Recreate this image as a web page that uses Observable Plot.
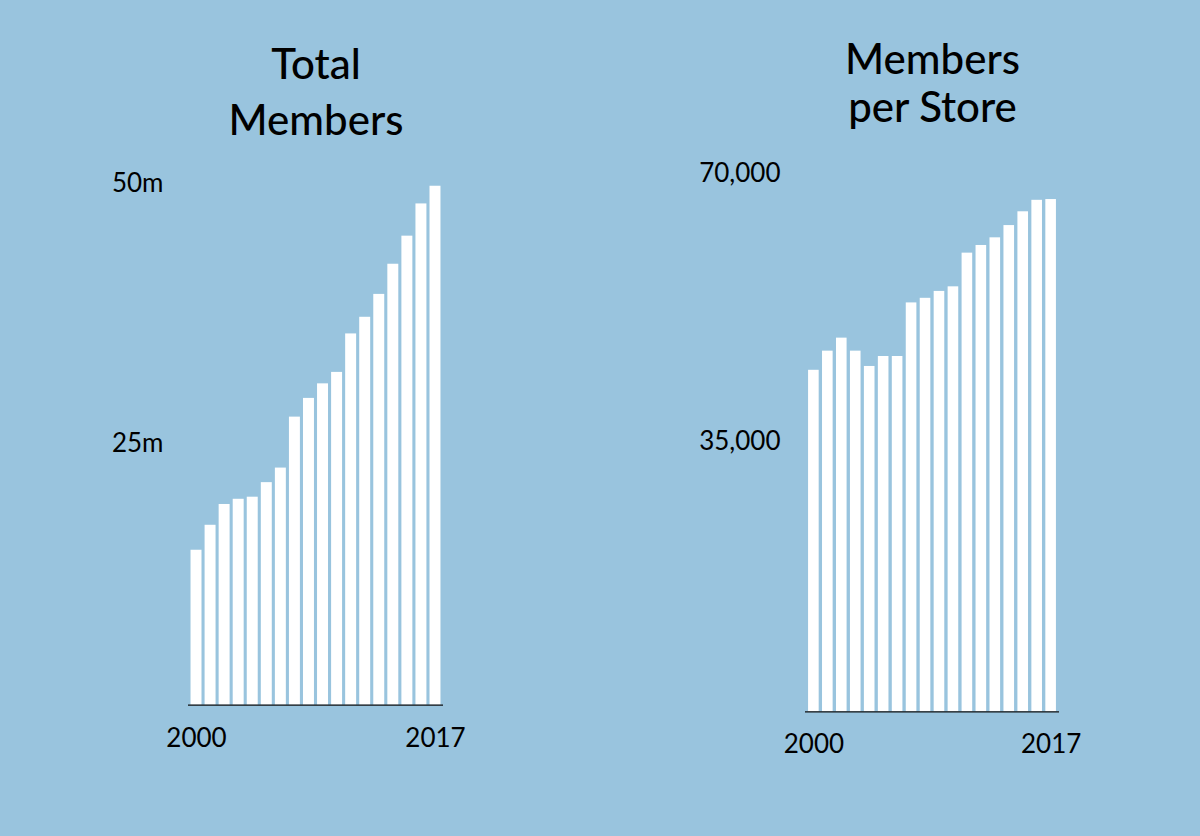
<!DOCTYPE html>
<html><head><meta charset="utf-8">
<script src="https://cdn.jsdelivr.net/npm/d3@7"></script>
<script src="https://cdn.jsdelivr.net/npm/@observablehq/plot@0.6"></script>
<style>
html,body{margin:0;padding:0;background:#99c4de;}
#wrap{position:relative;width:1200px;height:836px;background:#99c4de;overflow:hidden;}
#left,#right{position:absolute;top:0;}
#left{left:0}#right{left:600px}
</style></head><body><div id="wrap"><div id="left"></div><div id="right"></div></div>
<script>
const years = [2000,2001,2002,2003,2004,2005,2006,2007,2008,2009,2010,2011,2012,2013,2014,2015,2016,2017];
const totalMembers = [14.9,17.3,19.3,19.8,20.0,21.4,22.8,27.7,29.5,30.9,32.0,35.7,37.3,39.5,42.4,45.1,48.2,49.9]; // millions
const membersPerStore = [44600,47100,48800,47100,45100,46400,46400,53400,54000,54900,55500,59900,60900,61900,63500,65300,66800,66900];
const leftTicks = [25, 50];
const leftTickLabels = ["25m", "50m"];
const rightTicks = [35000, 70000];
const rightTickLabels = ["35,000", "70,000"];
const xTicks = [2000, 2017];
const leftTitle = "Total\nMembers";
const rightTitle = "Members\nper Store";

const FONT = "Lato, 'Open Sans', sans-serif";

const leftData = years.map((year, i) => ({year, value: totalMembers[i]}));
const rightData = years.map((year, i) => ({year, value: membersPerStore[i]}));

function chart({data, yDomain, yTicks, yLabels, title, marginLeft, marginRight, marginTop, marginBottom, pi, po, titleDy, lineHeight, xPad}) {
  return Plot.plot({
    width: 600, height: 836,
    marginLeft, marginRight, marginTop, marginBottom,
    style: {background: "transparent", fontFamily: FONT, color: "#000", overflow: "visible"},
    x: {type: "band", domain: years, paddingInner: pi, paddingOuter: po, round: false, axis: null, label: null},
    y: {domain: yDomain, axis: null, label: null},
    marks: [
      Plot.barY(data, {x: "year", y: "value", fill: "white"}),
      Plot.ruleY([0], {stroke: "#111", strokeWidth: 1.3}),
      Plot.axisY({ticks: yTicks, tickFormat: (d) => yLabels[yTicks.indexOf(d)], tickSize: 0, tickPadding: 25, fontSize: 26, fill: "#000", dy: -2, label: null}),
      Plot.axisX({ticks: xTicks, tickFormat: (d) => String(d), tickSize: 0, tickPadding: xPad, fontSize: 26, fill: "#000", label: null}),
      Plot.text([title], {frameAnchor: "top", lineAnchor: "bottom", dy: titleDy, fontSize: 42, lineHeight, fill: "#000", fontWeight: 500})
    ]
  });
}

document.getElementById("left").append(chart({
  data: leftData, yDomain: [0, 50], yTicks: leftTicks, yLabels: leftTickLabels, title: leftTitle,
  marginLeft: 188, marginRight: 157, marginTop: 184.7, marginBottom: 131.3, pi: 0.22, po: 0.18,
  titleDy: -50.7, lineHeight: 1.32, xPad: 23
}));
document.getElementById("right").append(chart({
  data: rightData, yDomain: [0, 70000], yTicks: rightTicks, yLabels: rightTickLabels, title: rightTitle,
  marginLeft: 205, marginRight: 141, marginTop: 175.3, marginBottom: 124.7, pi: 0.24, po: 0.22,
  titleDy: -54.3, lineHeight: 1.14, xPad: 23
}));
</script></body></html>
